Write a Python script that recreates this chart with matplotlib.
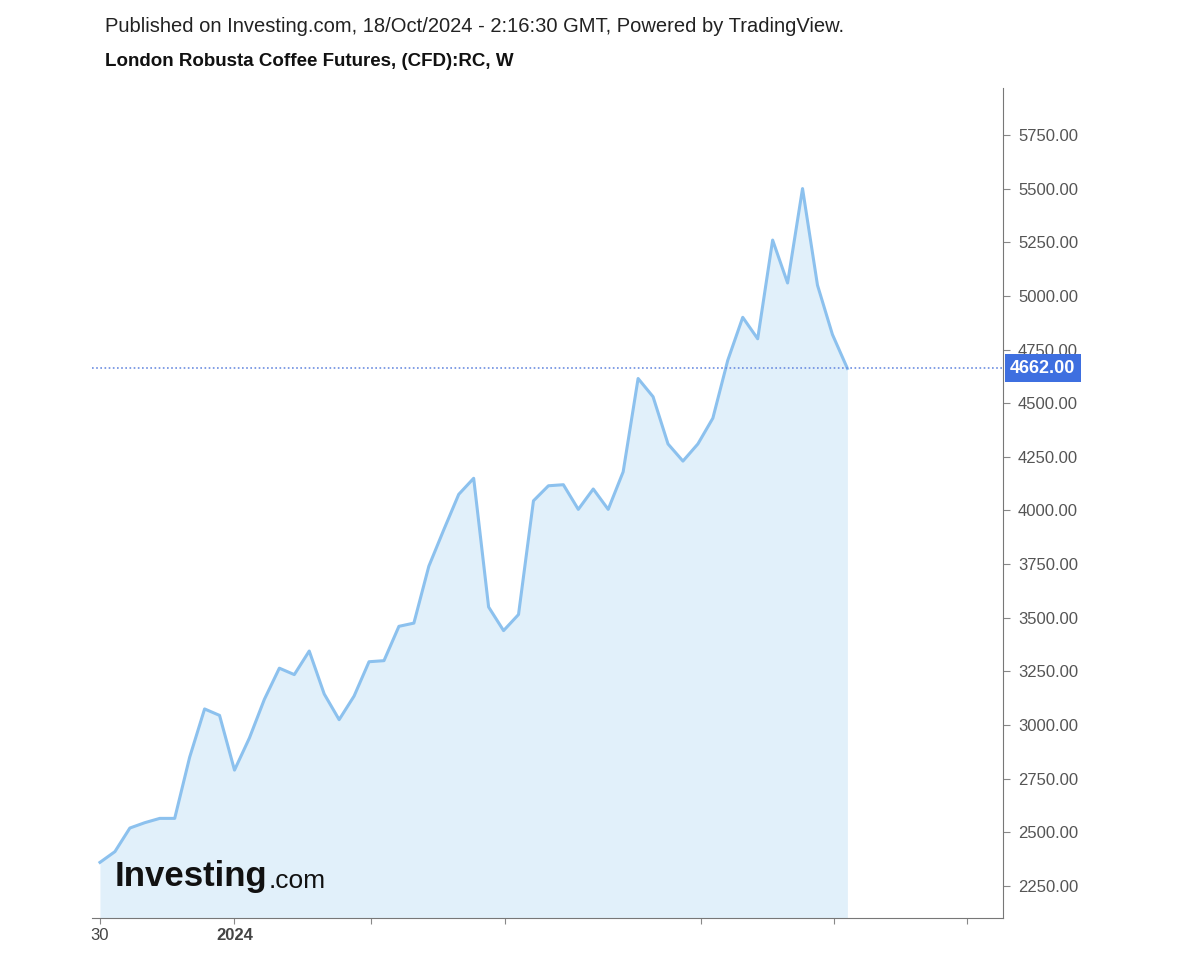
import matplotlib
matplotlib.use("Agg")
import matplotlib.pyplot as plt

plt.rcParams['font.family'] = ['Liberation Sans', 'DejaVu Sans']

# weekly closes, London Robusta Coffee
prices = [2360, 2410, 2520, 2545, 2565, 2565, 2850, 3075, 3045, 2790,
          2940, 3120, 3265, 3235, 3345, 3145, 3025, 3135, 3295, 3300,
          3460, 3475, 3740, 3910, 4075, 4150, 3550, 3440, 3515, 4045,
          4115, 4120, 4005, 4100, 4005, 4180, 4615, 4530, 4310, 4230,
          4310, 4430, 4700, 4900, 4800, 5260, 5060, 5500, 5050, 4820,
          4662]
last_price = 4662
y_ticks = [2250, 2500, 2750, 3000, 3250, 3500, 3750, 4000, 4250, 4500,
           4750, 5000, 5250, 5500, 5750]
x_tick_pos = [0, 9, 18.1, 27.1, 40.2, 49.1, 58]
x_tick_labels = ["30", "2024", "", "", "", "", ""]

fig = plt.figure(figsize=(12, 9.6), dpi=100)
ax = fig.add_axes([0.0767, 0.0438, 0.759, 0.8646])
xs = list(range(len(prices)))
ax.fill_between(xs, prices, 2000, color="#e1f0fa", lw=0)
ax.plot(xs, prices, color="#8cc1ee", lw=2.2)
ax.axhline(last_price, color="#6c8de0", ls=(0, (1, 1.5)), lw=1.2)

ax.set_xlim(-0.53, 60.4)
ax.set_ylim(2101, 5969)
ax.yaxis.tick_right()
ax.set_yticks(y_ticks)
ax.set_yticklabels([f"{v:.2f}" for v in y_ticks], color="#555555", fontsize=12)
ax.set_xticks(x_tick_pos)
ax.set_xticklabels(x_tick_labels, color="#444444", fontsize=12)
ax.get_xticklabels()[1].set_fontweight("bold")
ax.tick_params(axis="y", length=5, color="#888888", pad=6)
ax.tick_params(axis="x", length=4, color="#888888")
for s in ["top", "left"]:
    ax.spines[s].set_visible(False)
for s in ["right", "bottom"]:
    ax.spines[s].set_color("#777777")

ax.text(1.008, last_price, f"{last_price:.2f}", transform=ax.get_yaxis_transform(),
        ha="left", va="center", color="white", fontsize=13, fontweight="bold",
        bbox=dict(boxstyle="square,pad=0.3", fc="#3e6fe0", ec="none"))

logo = ax.text(0.025, 0.03, "Investing", transform=ax.transAxes, fontsize=25,
               fontweight="bold", color="#111111", ha="left", va="bottom")
ax.annotate(".com", xy=(1, 0), xycoords=logo, xytext=(1, 0),
            textcoords="offset points", fontsize=19, color="#111111",
            ha="left", va="bottom")

fig.text(0.0875, 0.972, "Published on Investing.com, 18/Oct/2024 - 2:16:30 GMT, Powered by TradingView.",
         fontsize=14.5, color="#222222", va="center")
fig.text(0.0875, 0.936, "London Robusta Coffee Futures, (CFD):RC, W",
         fontsize=13.5, fontweight="bold", color="#111111", va="center")

fig.savefig("out.png")
